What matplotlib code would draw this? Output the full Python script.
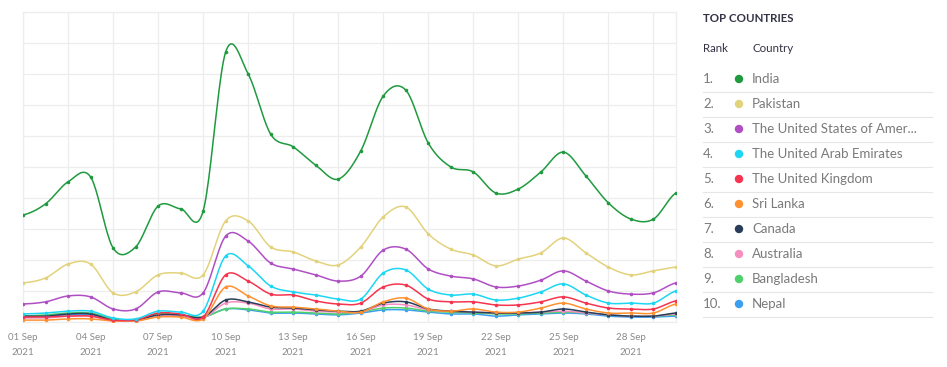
import numpy as np
import matplotlib
matplotlib.use("Agg")
import matplotlib.pyplot as plt

plt.rcParams['font.family'] = ['Lato', 'DejaVu Sans']

days = list(range(1, 31))
tick_days = [1, 4, 7, 10, 13, 16, 19, 22, 25, 28]
tick_labels = [f"{d:02d} Sep\n2021" for d in tick_days]

countries = ["India", "Pakistan", "The United States of Amer...", "The United Arab Emirates",
             "The United Kingdom", "Sri Lanka", "Canada", "Australia", "Bangladesh", "Nepal"]
colors = ["#1f9a3f", "#e3d27c", "#b04fc4", "#1cd6f4", "#f5344f", "#ff9131",
          "#2a3d5a", "#f68fc0", "#50d06c", "#3b9ef0"]

india = [34.5, 38.1, 45.2, 46.8, 23.9, 24.2, 37.4, 36.5, 35.8, 87.1, 80.0, 60.6, 56.5, 50.6, 46.1,
         55.2, 72.9, 74.8, 57.7, 50.0, 48.4, 41.6, 42.9, 48.4, 54.8, 47.1, 38.4, 33.2, 33.2, 41.6]
pakistan = [12.6, 14.2, 18.7, 18.7, 9.4, 9.7, 15.2, 15.8, 15.2, 32.6, 32.6, 24.2, 22.6, 19.7, 18.4,
            24.2, 33.9, 37.1, 28.4, 23.5, 21.6, 18.1, 20.3, 22.3, 27.1, 22.3, 17.7, 15.2, 16.5, 17.7]
usa = [5.8, 6.5, 8.4, 8.1, 4.2, 4.2, 9.7, 9.4, 9.4, 27.7, 26.1, 19.0, 17.1, 15.2, 13.2,
       14.8, 23.2, 23.5, 17.1, 14.8, 13.9, 11.3, 11.6, 13.5, 16.5, 13.2, 10.0, 9.0, 9.4, 12.6]
uae = [2.6, 2.9, 3.5, 3.5, 1.3, 1.0, 3.5, 3.2, 3.5, 21.3, 18.1, 11.6, 9.7, 8.7, 7.4,
       7.4, 15.8, 16.8, 10.6, 8.7, 9.0, 7.1, 7.7, 9.7, 12.3, 8.7, 6.1, 6.1, 6.1, 10.0]
uk = [1.6, 1.6, 1.9, 1.9, 0.6, 0.6, 2.9, 2.6, 1.6, 15.2, 13.2, 9.0, 8.7, 6.8, 5.8,
      6.1, 11.3, 11.9, 7.4, 6.5, 6.5, 5.5, 5.5, 6.5, 8.1, 6.1, 4.5, 4.2, 4.2, 6.8]
srilanka = [0.6, 0.6, 1.0, 1.0, 0.3, 0.3, 1.6, 1.6, 1.0, 11.3, 8.4, 5.2, 4.8, 4.2, 3.5,
            3.2, 6.5, 7.7, 4.2, 3.5, 4.2, 3.2, 3.2, 4.5, 6.1, 4.2, 2.9, 2.9, 2.9, 5.8]
canada = [1.9, 1.9, 2.6, 2.6, 0.6, 0.6, 2.3, 2.3, 1.6, 7.1, 6.5, 4.8, 4.5, 3.9, 3.5,
          3.5, 6.1, 6.5, 4.2, 3.5, 3.2, 2.9, 2.9, 3.2, 4.2, 3.2, 2.3, 1.9, 1.9, 2.9]
australia = [1.3, 1.3, 1.9, 1.9, 0.3, 0.3, 1.9, 1.9, 1.3, 6.1, 6.1, 4.2, 4.2, 3.5, 3.2,
             3.2, 5.5, 5.5, 3.9, 3.5, 3.2, 2.9, 2.9, 3.2, 3.5, 2.9, 2.3, 1.9, 1.9, 2.6]
bangladesh = [1.9, 2.3, 2.9, 2.9, 1.0, 0.6, 2.6, 2.3, 1.6, 4.2, 4.2, 3.2, 3.2, 2.9, 2.6,
              3.2, 4.5, 4.5, 3.5, 3.2, 2.9, 2.6, 2.6, 2.9, 3.2, 2.9, 2.3, 1.9, 1.9, 2.3]
nepal = [1.6, 1.9, 2.3, 2.3, 0.6, 0.6, 2.3, 1.9, 1.6, 4.2, 3.9, 2.9, 2.9, 2.6, 2.3,
         2.9, 3.9, 3.9, 3.2, 2.6, 2.6, 1.9, 2.3, 2.6, 2.9, 2.6, 1.9, 1.6, 1.6, 1.9]

series = [india, pakistan, usa, uae, uk, srilanka, canada, australia, bangladesh, nepal]


def catmull_rom(x, y, n=20):
    x = np.asarray(x, float)
    y = np.asarray(y, float)
    xs, ys = [], []
    for i in range(len(x) - 1):
        y0 = y[i - 1] if i > 0 else y[i]
        y3 = y[i + 2] if i + 2 < len(y) else y[i + 1]
        m1 = (y[i + 1] - y0) / 2.0
        m2 = (y3 - y[i]) / 2.0
        t = np.linspace(0, 1, n, endpoint=False)
        h00 = 2 * t**3 - 3 * t**2 + 1
        h10 = t**3 - 2 * t**2 + t
        h01 = -2 * t**3 + 3 * t**2
        h11 = t**3 - t**2
        xs.append(x[i] + t * (x[i + 1] - x[i]))
        ys.append(h00 * y[i] + h10 * m1 + h01 * y[i + 1] + h11 * m2)
    xs.append([x[-1]])
    ys.append([y[-1]])
    return np.concatenate(xs), np.concatenate(ys)


W, H = 947, 367
fig = plt.figure(figsize=(W / 100, H / 100), dpi=100)
ax = fig.add_axes([23 / W, 1 - 322 / H, (676 - 23) / W, (322 - 12) / H])

grid_c = "#ededed"
for d in range(1, 30, 2):
    ax.axvline(d, color=grid_c, lw=0.9, zorder=0)
for v in range(0, 101, 10):
    ax.axhline(v, color=grid_c, lw=0.9, zorder=0)

for name, vals, col in reversed(list(zip(countries, series, colors))):
    sx, sy = catmull_rom(days, vals)
    ax.plot(sx, sy, color=col, lw=1.1, zorder=2, solid_capstyle='round')
    ax.plot(days, vals, 'o', color=col, ms=2.6, mew=0, zorder=3)

ax.set_xlim(1, 30)
ax.set_ylim(0, 100)
ax.set_xticks(tick_days)
ax.set_xticklabels(tick_labels, fontsize=7, color="#8a8a8a", linespacing=1.8)
ax.tick_params(axis='x', length=0, pad=8)
ax.set_yticks([])
for s in ax.spines.values():
    s.set_color(grid_c)
    s.set_linewidth(0.9)

# Legend panel
def fy(y):
    return 1 - y / H

fig.text(703 / W, fy(19), "TOP COUNTRIES", fontsize=8.3, color="#333344",
         fontweight='bold', va='center', ha='left')
fig.text(703 / W, fy(48), "Rank", fontsize=8.3, color="#333344", va='center', ha='left')
fig.text(752 / W, fy(48), "Country", fontsize=8.3, color="#333344", va='center', ha='left')
for i, (name, col) in enumerate(zip(countries, colors)):
    y = 79 + 25 * i
    fig.text(703 / W, fy(y), f"{i + 1}.", fontsize=9.5, color="#7a7a7a", va='center', ha='left')
    fig.patches.append(matplotlib.patches.Ellipse((739 / W, fy(y)), 7 / W, 7 / H,
                                                  transform=fig.transFigure, color=col))
    fig.text(752 / W, fy(y), name, fontsize=9.5, color="#7a7a7a", va='center', ha='left')
    fig.add_artist(matplotlib.lines.Line2D([703 / W, 932 / W], [fy(y + 13), fy(y + 13)],
                                           color="#e6e6e6", lw=0.8))

fig.savefig("out.png", dpi=100)
